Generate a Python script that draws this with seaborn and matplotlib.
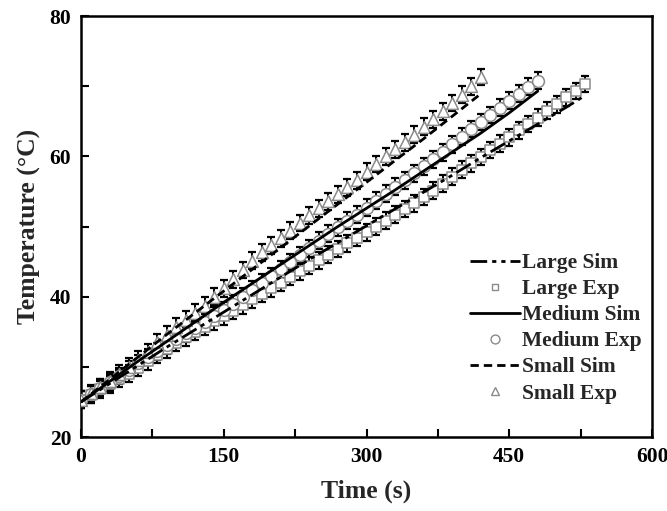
import numpy as np
import matplotlib
matplotlib.use("Agg")
import matplotlib.pyplot as plt
import seaborn as sns
from matplotlib.ticker import MultipleLocator

# ── Data ──
t_large = [0, 10, 20, 30, 40, 50, 60, 70, 80, 90, 100, 110, 120, 130, 140, 150, 160, 170,
           180, 190, 200, 210, 220, 230, 240, 250, 260, 270, 280, 290, 300, 310, 320, 330,
           340, 350, 360, 370, 380, 390, 400, 410, 420, 430, 440, 450, 460, 470, 480, 490,
           500, 510, 520, 530]
large_exp = [25.3, 26.0, 26.8, 27.5, 28.3, 29.0, 29.9, 30.8, 31.7, 32.5, 33.4, 34.2, 35.0,
             35.7, 36.5, 37.2, 38.0, 38.8, 39.6, 40.4, 41.2, 42.0, 42.8, 43.6, 44.4, 45.2,
             46.0, 46.8, 47.6, 48.4, 49.2, 50.0, 50.8, 51.7, 52.5, 53.3, 54.2, 55.1, 56.1,
             57.1, 58.1, 59.0, 59.9, 60.9, 61.8, 62.7, 63.7, 64.6, 65.5, 66.5, 67.4, 68.4,
             69.3, 70.3]

t_medium = [0, 10, 20, 30, 40, 50, 60, 70, 80, 90, 100, 110, 120, 130, 140, 150, 160, 170,
            180, 190, 200, 210, 220, 230, 240, 250, 260, 270, 280, 290, 300, 310, 320, 330,
            340, 350, 360, 370, 380, 390, 400, 410, 420, 430, 440, 450, 460, 470, 480]
medium_exp = [25.3, 26.1, 27.0, 27.8, 28.7, 29.6, 30.5, 31.4, 32.2, 33.1, 34.0, 34.8, 35.6,
              36.4, 37.3, 38.1, 39.0, 40.0, 41.0, 42.0, 42.9, 43.9, 44.9, 45.9, 46.9, 48.0,
              49.0, 49.9, 50.8, 51.7, 52.7, 53.7, 54.7, 55.7, 56.6, 57.6, 58.6, 59.6, 60.6,
              61.7, 62.8, 63.9, 64.9, 65.9, 66.9, 67.9, 68.9, 69.9, 70.8]

t_small = [0, 10, 20, 30, 40, 50, 60, 70, 80, 90, 100, 110, 120, 130, 140, 150, 160, 170,
           180, 190, 200, 210, 220, 230, 240, 250, 260, 270, 280, 290, 300, 310, 320, 330,
           340, 350, 360, 370, 380, 390, 400, 410, 420]
small_exp = [25.3, 26.2, 27.1, 28.0, 29.0, 30.0, 31.0, 32.1, 33.5, 34.6, 35.7, 36.7, 37.7,
             38.7, 40.0, 41.2, 42.5, 43.8, 45.1, 46.3, 47.3, 48.3, 49.4, 50.5, 51.6, 52.6,
             53.6, 54.6, 55.6, 56.6, 57.8, 58.9, 60.0, 61.0, 62.0, 63.1, 64.2, 65.3, 66.4,
             67.6, 68.8, 70.0, 71.3]

err_large = 1.2
err_medium = 1.2
err_small = 1.2

t_sim_large = [0, 30, 60, 90, 120, 150, 180, 210, 240, 270, 300, 330, 360, 390, 420, 450,
               480, 510, 530]
large_sim = [25.0, 27.6, 30.2, 32.8, 35.3, 37.8, 40.3, 42.8, 45.3, 47.7, 50.1, 52.5, 54.9,
             57.3, 59.8, 62.2, 64.6, 67.0, 68.7]
t_sim_medium = [0, 30, 60, 90, 120, 150, 180, 210, 240, 270, 300, 330, 360, 390, 420, 450, 480]
medium_sim = [25.0, 27.9, 30.8, 33.6, 36.4, 39.2, 41.9, 44.6, 47.3, 50.0, 52.6, 55.2, 57.9,
              60.6, 63.3, 66.2, 69.3]
t_sim_small = [0, 30, 60, 90, 120, 150, 180, 210, 240, 270, 300, 330, 360, 390, 420]
small_sim = [25.0, 28.2, 31.4, 34.6, 37.7, 40.8, 43.9, 47.0, 50.1, 53.2, 56.3, 59.4, 62.5,
             65.7, 68.9]

# ── Style ──
sns.set_style("ticks")
plt.rcParams["font.family"] = ["Liberation Serif", "DejaVu Serif"]
plt.rcParams["font.weight"] = "bold"
plt.rcParams["axes.labelweight"] = "bold"

fig = plt.figure(figsize=(6.67, 5.11), dpi=100)
ax = fig.add_axes([81 / 667, 1 - 437 / 511, 571 / 667, 421 / 511])

gray = "#8a8a8a"

series = [
    ("Large", t_large, large_exp, err_large, "s", 6.5, t_sim_large, large_sim,
     (0, (6, 1.8, 1.5, 1.8, 1.5, 1.8))),
    ("Medium", t_medium, medium_exp, err_medium, "o", 8.5, t_sim_medium, medium_sim, "-"),
    ("Small", t_small, small_exp, err_small, "^", 8.5, t_sim_small, small_sim, (0, (3, 1.8))),
]

handles = []
for name, t, y, err, mk, ms, ts, ys, ls in series:
    ax.errorbar(t, y, yerr=err, fmt="none", ecolor="black", elinewidth=1.4,
                capsize=3.0, capthick=1.6, zorder=2)
    sns.scatterplot(x=t, y=y, ax=ax, marker=mk, s=ms ** 2, facecolor="white",
                    edgecolor=gray, linewidth=1.1, zorder=3, legend=False)
    sns.lineplot(x=ts, y=ys, ax=ax, color="black", linewidth=2.0, linestyle=ls,
                 zorder=4, legend=False)
    h_sim, = ax.plot([], [], color="black", linewidth=2.0, linestyle=ls)
    h_exp, = ax.plot([], [], linestyle="none", marker=mk, markersize=ms * 0.75,
                     markerfacecolor="white", markeredgecolor=gray, markeredgewidth=1.0)
    handles += [(h_sim, f"{name} Sim"), (h_exp, f"{name} Exp")]

ax.set_xlim(0, 600)
ax.set_ylim(20, 80)
ax.xaxis.set_major_locator(MultipleLocator(150))
ax.xaxis.set_minor_locator(MultipleLocator(75))
ax.yaxis.set_major_locator(MultipleLocator(20))
ax.yaxis.set_minor_locator(MultipleLocator(10))
ax.tick_params(which="both", direction="in", length=6, width=1.5, top=False, right=False,
               labelsize=15.5, colors="black", pad=7)
for sp in ax.spines.values():
    sp.set_visible(True)
    sp.set_linewidth(1.8)
    sp.set_color("black")

ax.set_xlabel("Time (s)", fontsize=18.5, fontweight="bold", labelpad=9)
ax.set_ylabel("Temperature (°C)", fontsize=18.5, fontweight="bold", labelpad=6)

leg = ax.legend([h for h, _ in handles], [l for _, l in handles], loc="upper left",
                bbox_to_anchor=(470 / 667, 1 - 253 / 511), bbox_transform=fig.transFigure,
                frameon=False, fontsize=15.5, handlelength=2.3, handletextpad=0.1,
                labelspacing=0.28, borderpad=0, borderaxespad=0)
for txt in leg.get_texts():
    txt.set_fontweight("bold")

fig.savefig("out.png", dpi=100)
